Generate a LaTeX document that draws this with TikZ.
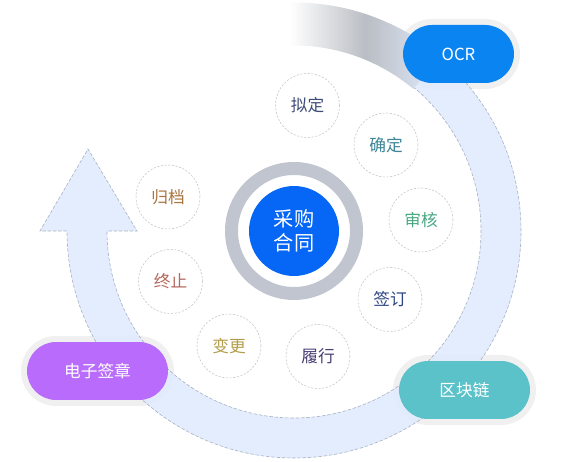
\documentclass[tikz,border=0pt]{standalone}
\usepackage{fontspec}
\setmainfont{Noto Sans CJK SC}
\usetikzlibrary{positioning,calc}
\definecolor{bandblue}{HTML}{E1EBFD}
\definecolor{bandline}{HTML}{A8B3C4}
\definecolor{ringgray}{HTML}{C0C5CF}
\definecolor{fadegray}{HTML}{BABEC4}
\definecolor{halogray}{HTML}{F0F0F0}
\definecolor{coreblue}{HTML}{0666F6}
\definecolor{ocrblue}{HTML}{0A84F0}
\definecolor{signpurple}{HTML}{B96BFB}
\definecolor{chainteal}{HTML}{5CC2C9}
\definecolor{stagegray}{HTML}{BCC3CC}
\definecolor{draftc}{HTML}{3E4D78}
\definecolor{confirmc}{HTML}{3D8597}
\definecolor{reviewc}{HTML}{47A882}
\definecolor{signc}{HTML}{2E4784}
\definecolor{performc}{HTML}{4A3F74}
\definecolor{changec}{HTML}{B39D48}
\definecolor{stopc}{HTML}{B46A5E}
\definecolor{archivec}{HTML}{AA7440}
\tikzset{
    every node/.style={font=\fontsize{9.5}{11}\selectfont},
    stage/.style={circle, draw=stagegray, dash pattern=on 1.2pt off 0.9pt, line width=0.3pt, fill=white, minimum size=1.28cm, inner sep=0pt},
    halo/.style={fill=halogray, rounded corners=0.7cm, minimum height=1.4cm, inner sep=0pt},
    pill/.style={rounded corners=0.58cm, minimum height=1.16cm, text=white, inner sep=0pt},
}

\begin{document}
\begin{tikzpicture}[x=0.02cm, y=0.02cm]
  \useasboundingbox (0,0) rectangle (567,462);
  \coordinate (hub) at (294,231);
  % halos sit under the band
  \node[halo, minimum width=2.46cm] (ocrhalo) at (458.5,408) {};
  \node[halo, minimum width=3.06cm] (signhalo) at (97.5,91) {};
  \node[halo, minimum width=2.86cm] (chainhalo) at (464.5,72) {};
  % band with arrow head
  \fill[bandblue, fill opacity=0.9, draw=bandline, line width=0.35pt, dash pattern=on 2pt off 1pt]
    ($(hub)+(90:227)$) arc[start angle=90, end angle=-180, radius=227]
    -- (40,231) -- (88,313) -- (137,231)
    -- ($(hub)+(180:187)$) arc[start angle=180, end angle=450, radius=187] -- cycle;
  \shade[left color=white, right color=bandblue, middle color=fadegray]
    ($(hub)+(91:228.5)$) arc[start angle=91, end angle=50, radius=228.5]
    -- ($(hub)+(50:185.5)$) arc[start angle=50, end angle=91, radius=185.5] -- cycle;
  % pills
  \node[pill, fill=ocrblue, minimum width=2.22cm] (ocr) at (ocrhalo) {OCR};
  \node[pill, fill=signpurple, minimum width=2.82cm] (esign) at (signhalo) {电子签章};
  \node[pill, fill=chainteal, minimum width=2.62cm] (chain) at (chainhalo) {区块链};
  % stages
  \node[stage, text=draftc] (draft) at (307.5,356.5) {拟定};
  \node[stage, text=confirmc] (confirm) at (386,317) {确定};
  \node[stage, text=reviewc] (review) at (421,242) {审核};
  \node[stage, text=signc] (sign) at (390,162.5) {签订};
  \node[stage, text=performc] (perform) at (318,105.5) {履行};
  \node[stage, text=changec] (change) at (229,116) {变更};
  \node[stage, text=stopc] (stop) at (170.5,180.5) {终止};
  \node[stage, text=archivec] (archive) at (168,265) {归档};
  % core
  \draw[ringgray, line width=0.26cm] (hub) circle[radius=62.5];
  \node[circle, fill=coreblue, minimum size=1.8cm, text=white, align=center,
        font=\fontsize{11.5}{13.6}\selectfont] (core) at (hub) {采购\\合同};
\end{tikzpicture}
\end{document}
